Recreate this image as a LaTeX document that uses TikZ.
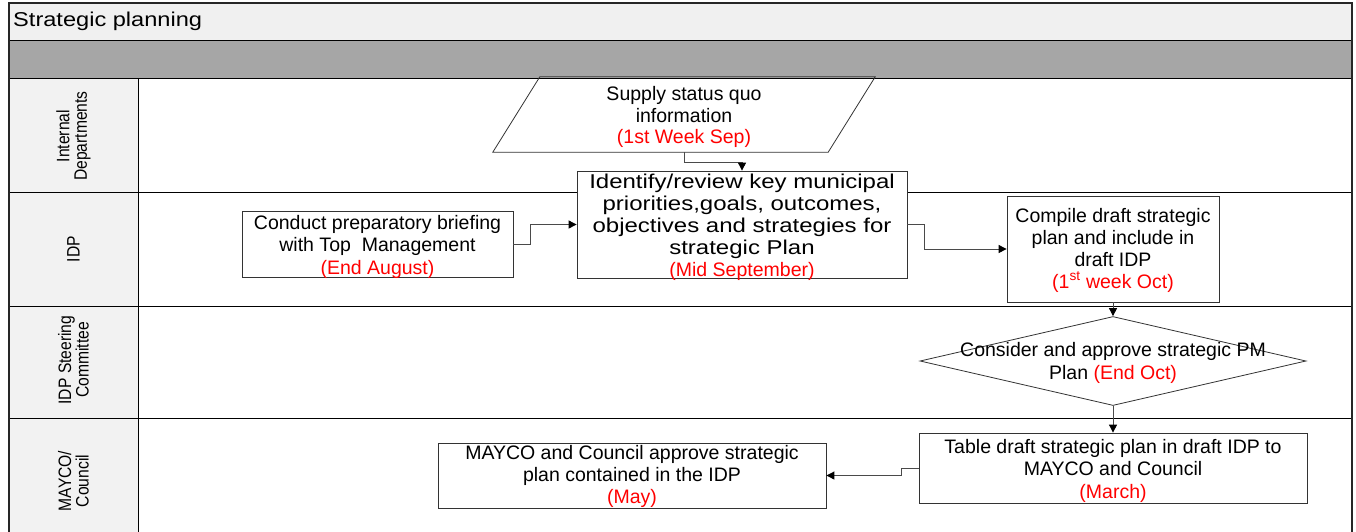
\documentclass[tikz,border=0pt]{standalone}
\usepackage{fontspec}
\setmainfont{Liberation Sans}
\newfontfamily\widefont[FakeStretch=1.2]{Liberation Sans}
\newfontfamily\titlefont[FakeStretch=1.18]{Liberation Sans}
\newfontfamily\lanefont[FakeStretch=0.87]{Liberation Sans}
\usetikzlibrary{arrows.meta,shapes.geometric}
\definecolor{due}{HTML}{FF0000}
\definecolor{boxline}{HTML}{333333}
\definecolor{connline}{HTML}{4A4A4A}
\definecolor{titlefill}{HTML}{F0F0F0}
\definecolor{bandfill}{HTML}{A6A6A6}
\definecolor{lanefill}{HTML}{F2F2F2}
\newcommand{\due}[1]{\textcolor{due}{#1}}
\begin{document}
\begin{tikzpicture}[x=1pt,y=-1pt,
  frame/.style={draw=black!85, line width=1.3pt},
  laneline/.style={draw=black, line width=1pt},
  lanelabel/.style={rotate=90, align=center, inner sep=0,
    font=\lanefont\fontsize{18}{17.5}\selectfont},
  task/.style={draw=boxline, line width=0.8pt, fill=white, inner sep=0},
  tasktext/.style={align=center, inner sep=0, yshift=-2.5pt,
    font=\fontsize{19.5}{22}\selectfont},
  decision/.style={diamond, draw=boxline, line width=0.8pt, fill=white,
    inner sep=0},
  conn/.style={draw=connline, line width=0.9pt,
    -{Triangle[length=8pt,width=8pt,color=black]}}
]
\useasboundingbox (0,0) rectangle (1356,531);

% title band, grey band and lane header column
\fill[titlefill] (9,3) rectangle (1352,40);
\fill[bandfill] (9,40) rectangle (1352,78);
\fill[lanefill] (9,78) rectangle (138,533);
\fill[white] (138,78) rectangle (1352,533);

% lane separators
\draw[laneline] (9,40) -- (1352,40);
\draw[laneline] (9,78) -- (1352,78);
\draw[laneline] (9,192) -- (1352,192);
\draw[laneline] (9,306) -- (1352,306);
\draw[laneline] (9,418) -- (1352,418);
\draw[laneline] (138,78) -- (138,533);

% outer frame (open at the bottom)
\draw[frame] (9,533) -- (9,3) -- (1352,3) -- (1352,533);

\node[anchor=west, inner sep=0, font=\titlefont\fontsize{20}{22}\selectfont] (title) at (13,21) {Strategic planning};

% lane names
\node[lanelabel] (laneDept) at (73.5,136) {Internal\\Departments};
\node[lanelabel] (laneIDP) at (73.5,249) {IDP};
\node[lanelabel] (laneSteer) at (73.5,360) {IDP Steering\\Committee};
\node[lanelabel] (laneCouncil) at (73.5,481) {MAYCO/\\Council};

% process steps
\node[inner sep=0, minimum width=382, minimum height=75,
  label={[tasktext, font=\fontsize{19.5}{21.5}\selectfont]center:{Supply status quo\\information\\\due{(1st Week Sep)}}}]
  (supply) at (684,114.5) {};
\draw[draw=boxline, line width=0.8pt]
  ([xshift=47pt]supply.north west) -- (supply.north east)
  -- ([xshift=-47pt]supply.south east) -- (supply.south west) -- cycle;

\node[task, minimum width=330, minimum height=107,
  label={[tasktext, font=\widefont\fontsize{20}{22}\selectfont]center:{Identify/review key municipal\\priorities,goals, outcomes,\\objectives and strategies for\\strategic Plan\\\due{\rmfamily\fontsize{19.5}{22}\selectfont(Mid September)}}}]
  (identify) at (742,224.5) {};

\node[task, minimum width=271, minimum height=66,
  label={[tasktext, font=\fontsize{19.5}{22.5}\selectfont]center:{Conduct preparatory briefing\\with Top~ Management\\\due{(End August)}}}]
  (conduct) at (377.5,244) {};

\node[task, minimum width=212, minimum height=106,
  label={[tasktext, yshift=1.5pt]center:{Compile draft strategic\\plan and include in\\draft IDP\\\due{(1\textsuperscript{st} week Oct)}}}]
  (compile) at (1113,249) {};

\node[decision, minimum width=386, minimum height=89,
  label={[tasktext, yshift=1pt, font=\fontsize{19.5}{23}\selectfont]center:{Consider and approve strategic PM\\Plan \due{(End Oct)}}}]
  (approve) at (1113,361) {};

\node[task, minimum width=388, minimum height=70,
  label={[tasktext, font=\fontsize{19.5}{22.5}\selectfont]center:{Table draft strategic plan in draft IDP to\\MAYCO and Council\\\due{(March)}}}]
  (table) at (1113,468) {};

\node[task, minimum width=388, minimum height=65,
  label={[tasktext, yshift=1.5pt]center:{MAYCO and Council approve strategic\\plan contained in the IDP\\\due{(May)}}}]
  (adopt) at (632,475.5) {};

% flow
\draw[conn] (supply.south) -- ++(0,10) -| (identify.north);
\draw[conn] (conduct.east) -- ++(17,0) |- (identify.west);
\draw[conn] (identify.east) -- ++(17,0) |- (compile.west);
\draw[conn] (compile.south) -- (approve.north);
\draw[conn] (approve.south) -- (table.north);
\draw[conn] (table.west) -- ++(-17,0) |- (adopt.east);
\end{tikzpicture}
\end{document}
